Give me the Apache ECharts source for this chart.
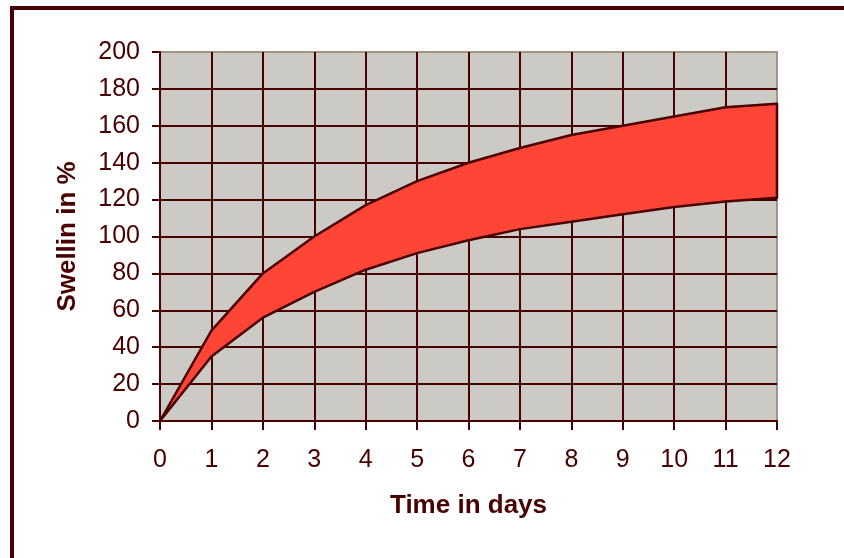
<!DOCTYPE html>
<html>
<head>
<meta charset="utf-8">
<script src="https://cdn.jsdelivr.net/npm/echarts@6/dist/echarts.min.js"></script>
<style>
  html, body { margin: 0; padding: 0; background: #fff; overflow: hidden; }
  #frame { position: absolute; left: 10px; top: 6px; width: 900px; height: 600px; border: 4px solid #4a0000; }
  #main { position: absolute; left: 0; top: 0; width: 844px; height: 558px; }
</style>
</head>
<body>
<div id="frame"></div>
<div id="main"></div>
<script>
// days and the two swelling curves (%)
var days = [0, 1, 2, 3, 4, 5, 6, 7, 8, 9, 10, 11, 12];
var upper = [0, 49, 80, 100, 117, 130, 140, 148, 155, 160, 165, 170, 172];
var lower = [0, 35, 56, 70, 82, 91, 98, 104, 108, 112, 116, 119, 121];

var maroon = '#4a0000';
var chart = echarts.init(document.getElementById('main'));

var band = days.map(function (d, i) { return [d, upper[i], lower[i]]; });

chart.setOption({
  animation: false,
  grid: {
    left: 160, right: 67, top: 52, bottom: 137,
    show: true,
    backgroundColor: '#cccac5',
    borderColor: '#a39484',
    borderWidth: 2
  },
  xAxis: {
    type: 'value', min: 0, max: 12, interval: 1,
    name: 'Time in days', nameLocation: 'middle', nameGap: 72,
    nameTextStyle: { color: maroon, fontSize: 26, fontWeight: 'bold', fontFamily: 'Liberation Sans' },
    axisLine: { lineStyle: { color: maroon, width: 2 } },
    axisTick: { show: true, length: 9, lineStyle: { color: maroon, width: 2 } },
    axisLabel: { color: maroon, fontSize: 25, fontFamily: 'Liberation Sans', margin: 27 },
    splitLine: { show: true, showMinLine: false, showMaxLine: false, lineStyle: { color: maroon, width: 2 } }
  },
  yAxis: {
    type: 'value', min: 0, max: 200, interval: 20,
    name: 'Swellin in %', nameLocation: 'middle', nameGap: 79,
    nameTextStyle: { color: maroon, fontSize: 26, fontWeight: 'bold', fontFamily: 'Liberation Sans' },
    axisLine: { show: true, lineStyle: { color: maroon, width: 2 } },
    axisTick: { show: true, length: 8, lineStyle: { color: maroon, width: 2 } },
    axisLabel: { color: maroon, fontSize: 25, fontFamily: 'Liberation Sans', margin: 20 },
    splitLine: { show: true, showMinLine: false, showMaxLine: false, lineStyle: { color: maroon, width: 2 } }
  },
  series: [{
    type: 'custom',
    data: band,
    encode: { x: 0, y: [1, 2] },
    renderItem: function (params, api) {
      if (params.dataIndex !== 0) return;
      var top = band.map(function (p) { return api.coord([p[0], p[1]]); });
      var bot = band.slice().reverse().map(function (p) { return api.coord([p[0], p[2]]); });
      return {
        type: 'polygon',
        shape: { points: top.concat(bot) },
        style: { fill: '#ff4536', stroke: maroon, lineWidth: 2.5, lineJoin: 'round' }
      };
    },
    z: 5
  }]
});
</script>
</body>
</html>
